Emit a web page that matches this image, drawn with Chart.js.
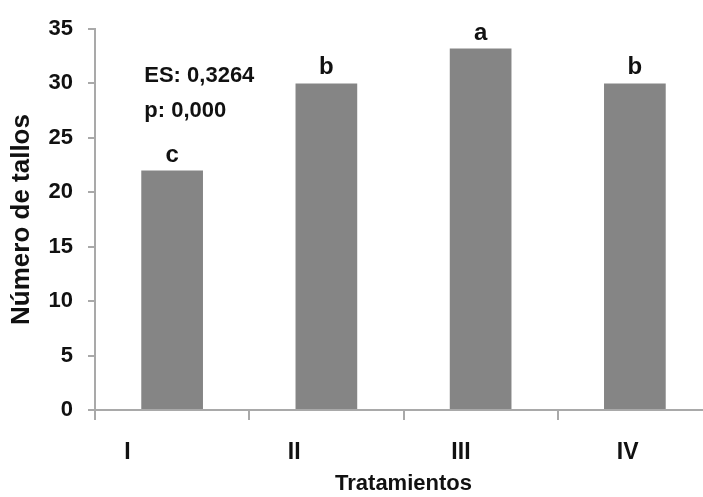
<!DOCTYPE html>
<html><head><meta charset="utf-8">
<script src="https://cdn.jsdelivr.net/npm/chart.js@4"></script>
<style>html,body{margin:0;padding:0;background:#fff;overflow:hidden}</style>
</head><body>
<canvas id="c" width="712" height="497"></canvas>
<script>
// Número de tallos por tratamiento
const categories = ['I', 'II', 'III', 'IV'];
const tallos = [22, 30, 33.2, 30];
const letras = ['c', 'b', 'a', 'b'];
const notas = ['ES: 0,3264', 'p: 0,000'];
const yTicks = [0, 5, 10, 15, 20, 25, 30, 35];

const SANS = "'Liberation Sans',Arial,sans-serif";
const AXIS = '#a9a9a9';
const BAR = '#858585';
const INK = '#111111';

// significance letters over each bar and the statistics note
const letrasPlugin = {
  id: 'letras',
  afterDatasetsDraw(chart) {
    const ctx = chart.ctx;
    const bars = chart.getDatasetMeta(0).data;
    ctx.save();
    ctx.fillStyle = INK;
    ctx.textAlign = 'center';
    ctx.textBaseline = 'alphabetic';
    ctx.font = `bold 24px ${SANS}`;
    bars.forEach((b, i) => ctx.fillText(letras[i], b.x, b.y - 9));
    const b0 = bars[0];
    const y = chart.scales.y.getPixelForValue(30);
    ctx.textAlign = 'left';
    ctx.font = `bold 22px ${SANS}`;
    notas.forEach((t, i) => ctx.fillText(t, b0.x - b0.width / 2 + 3, y - 1 + i * 35));
    ctx.restore();
  }
};

new Chart(document.getElementById('c'), {
  type: 'bar',
  data: {
    labels: categories,
    datasets: [{
      data: tallos,
      backgroundColor: BAR,
      borderWidth: 0,
      barPercentage: 0.40,
      categoryPercentage: 1
    }]
  },
  options: {
    responsive: false,
    animation: false,
    layout: { padding: { top: 29, right: 0, bottom: 0, left: 0 } },
    plugins: { legend: { display: false }, tooltip: { enabled: false } },
    scales: {
      x: {
        type: 'category', position: 'bottom', weight: 0,
        grid: { display: true, offset: true, drawOnChartArea: false, drawTicks: true, tickLength: 10, color: AXIS, lineWidth: 2 },
        border: { display: true, color: AXIS, width: 2 },
        ticks: { display: false }
      },
      // treatment names run along their own axis below the bars
      xl: {
        type: 'linear', position: 'bottom', weight: 1, offset: false,
        bounds: 'data', min: -0.195, max: 3.506,
        grid: { display: false, offset: false }, border: { display: false },
        afterBuildTicks: s => { s.ticks = categories.map((_, i) => ({ value: i })); },
        ticks: {
          autoSkip: false, maxRotation: 0, padding: 11, color: INK,
          font: { family: SANS, weight: 'bold', size: 23 },
          callback: v => categories[v]
        },
        title: {
          display: true, text: 'Tratamientos', color: INK,
          font: { family: SANS, weight: 'bold', size: 22, lineHeight: 1 },
          padding: { top: 0, bottom: 2 }
        },
        afterFit: s => { s.height = 77; }
      },
      y: {
        min: 0, max: 35,
        afterBuildTicks: s => { s.ticks = yTicks.map(v => ({ value: v })); },
        grid: { drawOnChartArea: false, drawTicks: true, tickLength: 7, color: AXIS, lineWidth: 2 },
        border: { display: true, color: AXIS, width: 2 },
        ticks: { padding: 15, color: INK, font: { family: SANS, weight: 'bold', size: 22 } },
        title: {
          display: true, text: 'Número de tallos', color: INK,
          font: { family: SANS, weight: 'bold', size: 26 },
          padding: { top: 6, bottom: 0 }
        },
        afterFit: s => { s.width = 95; }
      }
    }
  },
  plugins: [letrasPlugin]
});
</script>
</body></html>
